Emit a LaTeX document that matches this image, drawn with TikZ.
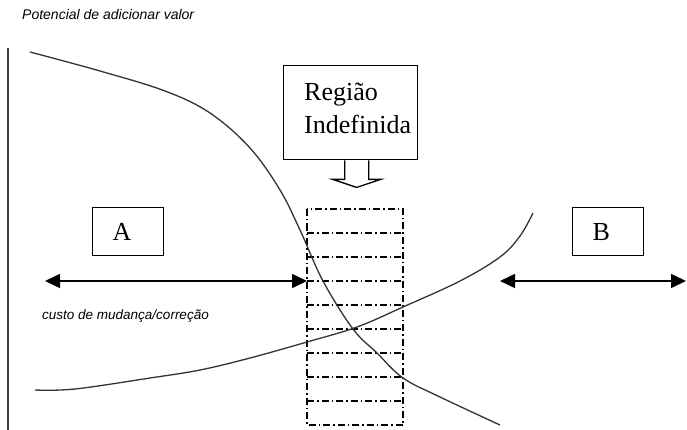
\documentclass[tikz,border=0pt]{standalone}
\usepackage{fontspec}
\setmainfont{Liberation Serif}
\setsansfont{Liberation Sans}
\usepackage{tikz}
\usetikzlibrary{arrows.meta}

\begin{document}
\begin{tikzpicture}[>={Triangle[length=15pt,width=14pt]}, x=1pt, y=-1pt,
	caixa/.style={draw, line width=1.4pt, align=left, font=\fontsize{26}{33}\selectfont},
	legenda/.style={anchor=west, inner sep=0pt, font=\fontsize{13.5}{16}\selectfont\sffamily\itshape},
	curva/.style={line width=1.3pt, color=black!80},
	faixa/.style={line width=1.3pt, dash pattern=on 7pt off 3pt on 1.5pt off 3pt}]
	%\draw [help lines] (0,0) grid (687,430);
	\useasboundingbox (0,0) rectangle (687,430);
	\draw [line width=1.8pt, black!75] (8,48) -- (8,430);
	\node (titulo) [legenda, font=\fontsize{14}{16}\selectfont\sffamily\itshape] at (22,15) {Potencial de adicionar valor};
	\node (custo) [legenda] at (42,316) {custo de mudança/correção};
	\node (regiao) [caixa, minimum width=134pt, minimum height=94pt, anchor=north west] at (283,65) {};
	\node (rotulo) [anchor=north west, inner sep=0pt, align=left, font=\fontsize{26}{33}\selectfont] at (304,83) {Região\\Indefinida};
	\node (A) [caixa, text width=31pt, inner xsep=20pt, minimum height=48pt, anchor=north west] at (92,207) {A};
	\node (B) [caixa, text width=31pt, inner xsep=20pt, minimum height=48pt, anchor=north west] at (572,207) {B};
	\draw [line width=1.3pt, fill=white] ([xshift=-6pt]regiao.south) -- ++(0,19) -- ++(-12,0) -- ++(24,8) -- ++(24,-8) -- ++(-12,0) -- ++(0,-19);
	\draw [faixa] (307,209) rectangle (403,425);
	\foreach \y in {233,257,...,401}
		\draw [faixa] (307,\y) -- (403,\y);
	\draw [curva] plot [smooth, tension=0.6] coordinates {(30,52) (100,71) (165,91) (210,113) (250,148) (280,190) (300,230) (323,281) (353,329) (377,353) (403,378) (440,397) (500,425)};
	\draw [curva] plot [smooth, tension=0.6] coordinates {(35,390) (75,389) (150,378) (200,370) (250,358) (307,342) (357,327) (403,307) (460,281) (500,257) (520,236) (533,213)};
	\coordinate (a1) at (45,281);
	\coordinate (a2) at (307,281);
	\coordinate (b1) at (500,281);
	\coordinate (b2) at (686,281);
	\draw [<->, line width=1.5pt] (a1) -- (a2);
	\draw [<->, line width=1.5pt] (b1) -- (b2);
\end{tikzpicture}
\end{document}
